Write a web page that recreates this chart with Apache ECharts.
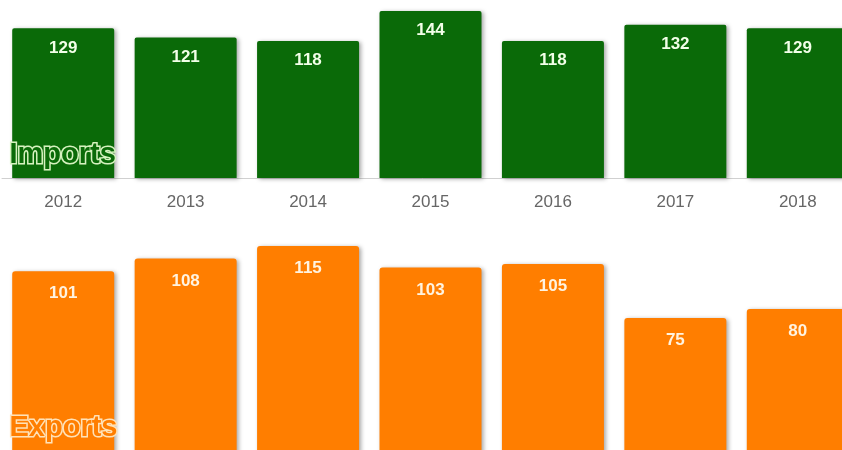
<!DOCTYPE html>
<html>
<head>
<meta charset="utf-8">
<script src="https://cdn.jsdelivr.net/npm/echarts@6/dist/echarts.min.js"></script>
<style>html,body{margin:0;padding:0;background:#fff;}#c{width:842px;height:450px;}</style>
</head>
<body>
<div id="c"></div>
<script>
const years = ['2012','2013','2014','2015','2016','2017','2018'];
const imports = [129,121,118,144,118,132,129];
const exportsData = [101,108,115,103,105,75,80];

const chart = echarts.init(document.getElementById('c'), null, {renderer:'canvas'});
const green = '#0a6a08';
const orange = '#ff7e00';
const shadow = {shadowBlur:4, shadowColor:'rgba(0,0,0,0.35)', shadowOffsetX:2, shadowOffsetY:1};
chart.setOption({
  animation:false,
  grid:[
    {left:2, width:857, top:0, height:178, outerBoundsMode:'none', containLabel:false},
    {left:2, width:857, top:240, height:213, outerBoundsMode:'none', containLabel:false}
  ],
  xAxis:[
    {gridIndex:0, type:'category', data:years,
     axisLine:{show:true, lineStyle:{color:'#d0d0d0', width:1}},
     axisTick:{show:false},
     axisLabel:{color:'#666', fontSize:17, fontFamily:'Liberation Sans, Arial', margin:16}},
    {gridIndex:1, type:'category', data:years, show:false}
  ],
  yAxis:[
    {gridIndex:0, type:'value', min:0, max:153.4, show:false, splitLine:{show:false}},
    {gridIndex:1, type:'value', min:0, max:118.3, show:false, splitLine:{show:false}}
  ],
  series:[
    {type:'bar', xAxisIndex:0, yAxisIndex:0, data:imports, barWidth:102,
     itemStyle:Object.assign({color:green, borderRadius:[2,2,0,0]}, shadow),
     label:{show:true, position:'insideTop', distance:11, color:'#f2ffe8', fontWeight:'bold', fontSize:17, fontFamily:'Liberation Sans, Arial'}},
    {type:'bar', xAxisIndex:1, yAxisIndex:1, data:exportsData, barWidth:102,
     itemStyle:Object.assign({color:orange, borderRadius:[3,3,0,0]}, shadow),
     label:{show:true, position:'insideTop', distance:14, color:'#fff3e0', fontWeight:'bold', fontSize:17, fontFamily:'Liberation Sans, Arial'}}
  ],
  graphic:[
    {type:'text', left:8, top:139, z:100,
     style:{text:'Imports', font:'bold 29px "Liberation Sans", Arial', fill:green, stroke:'#d6f2bf', lineWidth:3, strokeFirst:true}},
    {type:'text', left:8, top:412, z:100,
     style:{text:'Exports', font:'bold 29px "Liberation Sans", Arial', fill:orange, stroke:'#ffe2b8', lineWidth:3, strokeFirst:true}}
  ]
});
</script>
</body>
</html>
